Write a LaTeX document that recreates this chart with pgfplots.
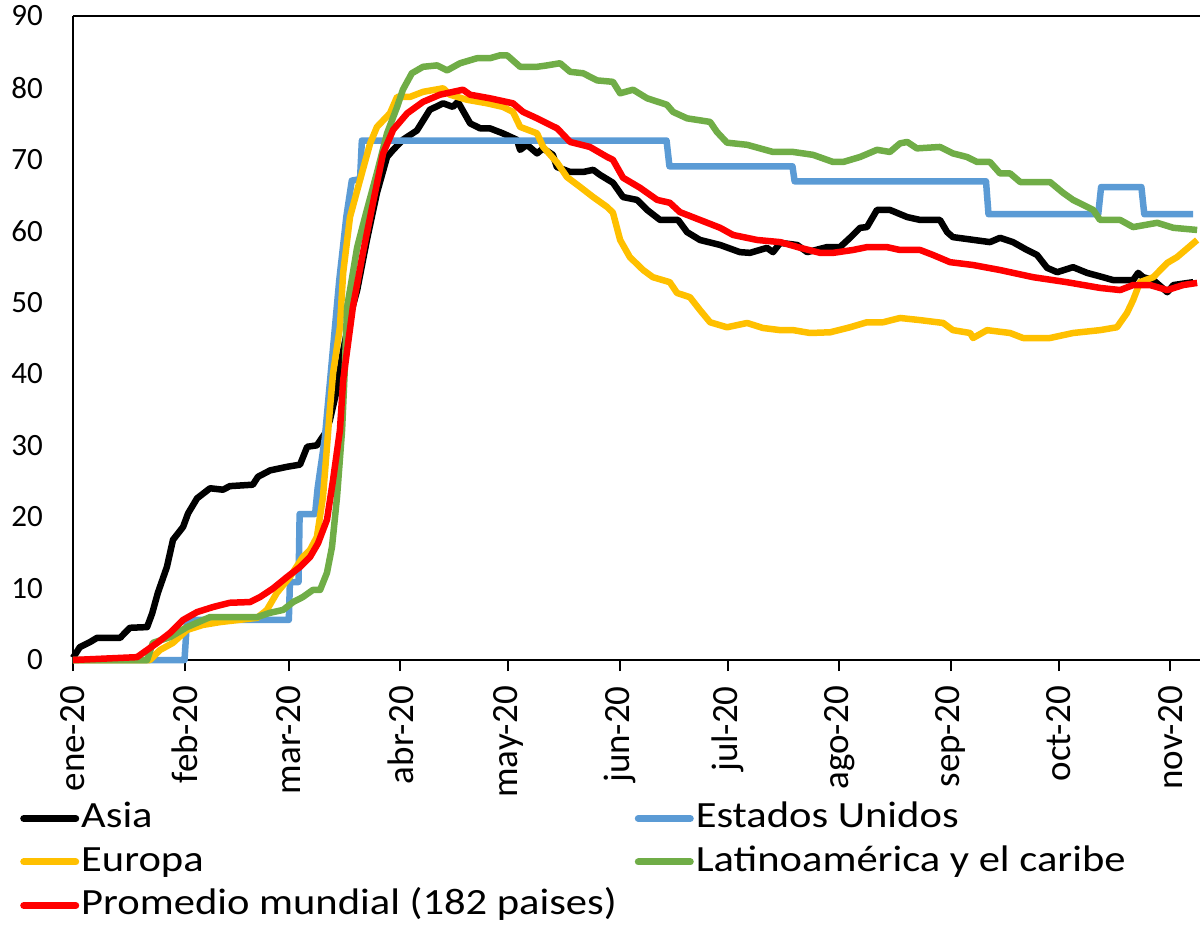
\documentclass[border=0pt]{standalone}
\usepackage{fontspec}
\setmainfont{Carlito}
\newfontfamily\legfont[FakeStretch=1.15]{Carlito}
\usepackage{pgfplots}
\pgfplotsset{compat=1.18}
\definecolor{cblue}{HTML}{5B9BD5}
\definecolor{cyellow}{HTML}{FFC000}
\definecolor{cgreen}{HTML}{70AD47}
\definecolor{cred}{HTML}{FF0000}
\begin{document}
\begin{tikzpicture}
\begin{axis}[
  name=ax, at={(0,0)}, anchor=south west,
  scale only axis, width=1127pt, height=644pt,
  xmin=0, xmax=313.3, ymin=0, ymax=90,
  clip=false,
  axis lines*=left, axis line style={-, line width=2pt, black},
  xtick={0,31,60,91,121,152,182,213,244,274,305},
  xticklabels={ene-20,feb-20,mar-20,abr-20,may-20,jun-20,jul-20,ago-20,sep-20,oct-20,nov-20},
  xtick pos=bottom, ytick pos=left,
  x tick style={line width=2pt, black}, xtick align=outside, major tick length=11pt,
  ytick={0,10,...,90},
  y tick style={draw=none}, ytick align=inside,
  /pgf/number format/assume math mode=true,
  yticklabel style={font=\fontsize{31}{31}\selectfont, inner sep=0pt},
  yticklabel shift=30pt,
  xticklabel style={font=\fontsize{37}{37}\selectfont, rotate=90, anchor=east, inner sep=0pt},
  xticklabel shift=15pt,
  every axis plot/.append style={line width=6.5pt, line join=round, mark=none},
  legend columns=2, legend cell align=left,
  legend image code/.code={\draw[#1, line width=7pt, line cap=round] (0pt,0pt) -- (52pt,0pt);},
  legend style={at={(-0.047,-0.212)}, anchor=north west, draw=none, fill=none, inner sep=0pt,
    font=\legfont\fontsize{37}{37}\selectfont,
    nodes={inner sep=2pt, text height=29pt, text depth=10.5pt},
    /tikz/every even column/.append style={column sep=16pt}},
  after end axis/.code={\draw[line width=2pt] (rel axis cs:0,1) -- (rel axis cs:1,1);},
]
% Asia
\addplot[black] coordinates {
(0,0.3)(1.9,1.8)(4.7,2.5)(6.7,3.1)(13.1,3.1)(15.8,4.5)(20.6,4.6)(22,6.5)(23.6,9.4)(26.1,13)(27.8,16.8)(30.6,18.6)(32,20.5)(34.5,22.6)(38.1,24)(41.7,23.8)(43.6,24.3)(50,24.5)(51.4,25.6)(54.8,26.5)(59.5,27)(63.1,27.3)(65.1,29.8)(67.8,30)(70.1,31.7)(71.4,33.5)(73,37)(75,43)(77,48)(79,51.7)(81.7,58.7)(84.5,65.3)(87.3,70.3)(89,71.3)(91.7,72.7)(95.6,74)(99.2,76.9)(102.9,77.8)(105.6,77.3)(107,78)(110.4,75)(113.2,74.3)(115.9,74.3)(119.5,73.6)(123.4,72.7)(124.3,71.3)(126.2,72)(129,70.8)(130.7,71.5)(133.4,70.6)(134.5,68.9)(138.2,68.2)(141.8,68.2)(144.6,68.5)(146.5,67.8)(150.1,66.7)(152.9,64.7)(156.8,64.3)(159.6,62.9)(163.2,61.5)(168.2,61.5)(170.7,59.8)(174.3,58.7)(179.9,58)(185.4,57)(188.2,56.9)(192.9,57.6)(194.6,57)(196.6,58.3)(201.3,58)(204.1,57)(209.6,57.7)(213.2,57.7)(216,59)(218.8,60.4)(220.7,60.5)(223.5,62.9)(227.1,62.9)(231.9,61.9)(235.5,61.5)(241,61.5)(243,59.8)(244.6,59.1)(254.9,58.4)(257.7,59)(261.3,58.4)(265.2,57.3)(268,56.6)(270.8,54.8)(273.6,54.2)(278,54.9)(281.9,54.1)(286.3,53.5)(289.1,53.1)(294.7,53.1)(296.1,54.1)(297.5,53.5)(300.3,53.1)(304.2,51.4)(305.9,52.4)(311.4,52.8)
};
\addlegendentry{Asia}
% Estados Unidos
\addplot[cblue] coordinates {
(0,0)(31,0)(31.7,5.6)(60,5.6)(60.3,10.9)(62.7,10.9)(63,20.4)(67.3,20.4)(68,24)(70,31)(72,42)(74,53)(76,62)(77.5,67)(79.8,67.2)(80.3,72.6)(165,72.6)(165.8,69)(200,69)(200.6,66.9)(253.8,66.9)(254.5,62.3)(285,62.3)(285.8,66.1)(297,66.1)(297.8,62.3)(311.4,62.3)
};
\addlegendentry{Estados Unidos}
% Europa
\addplot[cyellow] coordinates {
(0,0)(21.4,0)(24.2,1.4)(27.8,2.4)(31.7,4.2)(36.1,4.9)(40.9,5.3)(51.2,5.9)(53.9,7)(56.7,9.4)(60.3,11.6)(63.9,14.4)(65.9,15.4)(67.8,17.2)(69.5,22.8)(70.6,29.8)(71.4,35)(72.3,40.1)(74.2,46.5)(75.1,54.1)(77,61.9)(79.8,67.1)(82.6,72.2)(84.5,74.5)(88.1,76.4)(90.1,78.7)(93.7,78.7)(97.3,79.4)(102.9,79.9)(104.8,79)(109.5,78.3)(115.1,77.8)(119.5,77.3)(122.3,76.6)(124.3,74.5)(129,73.6)(130.7,71.7)(134.6,69.5)(137.3,67.5)(141,66.1)(144.6,64.7)(148.5,63.3)(150.1,62.5)(152.1,58.7)(154.8,56.3)(158.5,54.5)(161.2,53.5)(165.9,52.8)(167.9,51.3)(171.5,50.7)(174.3,48.9)(177.1,47.2)(181.8,46.5)(187.4,47.1)(191.8,46.4)(196.6,46.1)(200.2,46.1)(204.9,45.7)(210.5,45.8)(216,46.5)(220.7,47.2)(225.2,47.2)(229.9,47.8)(235.5,47.5)(241.9,47.1)(244.6,46.1)(249.4,45.7)(250.2,45)(254.1,46.1)(260.5,45.7)(264.1,45)(271.6,45)(278,45.7)(285.5,46.1)(290.2,46.5)(293,48.5)(294.7,50.3)(296.6,52.8)(300.3,53.5)(304.2,55.5)(306.9,56.3)(312.5,58.7)
};
\addlegendentry{Europa}
% Latinoamerica
\addplot[cgreen] coordinates {
(0,0)(20.6,0)(22.2,2.4)(27,3.2)(31.7,4.6)(38.1,6)(51.2,6)(54.8,6.6)(58.4,7)(61.2,8.1)(63.9,8.8)(66.7,9.8)(68.7,9.8)(70.6,12.2)(72,15.8)(73.4,22.8)(74.8,32.1)(75.5,40)(76.2,49.3)(79,57.7)(81.7,62.9)(84.5,68.1)(87.3,73.6)(90.1,77.3)(91.7,79.7)(94.2,82)(97.3,82.9)(101.2,83.1)(104,82.4)(107.6,83.4)(112.3,84.1)(115.9,84.1)(118.7,84.5)(120.7,84.5)(124.3,82.9)(129,82.9)(131.8,83.1)(135.4,83.4)(138.2,82.2)(141.8,82)(145.7,81)(150.1,80.8)(152.1,79.2)(155.7,79.7)(159.6,78.5)(165.1,77.6)(166.8,76.6)(170.7,75.7)(177.1,75.2)(179,73.8)(181.8,72.3)(187.4,72)(191,71.5)(194.6,71)(200.2,71)(205.7,70.6)(211.3,69.6)(214.1,69.6)(218.8,70.3)(223.5,71.3)(227.1,71)(229.9,72.2)(231.9,72.4)(234.6,71.5)(241,71.7)(244.6,70.8)(248.5,70.3)(251.3,69.6)(254.9,69.6)(257.7,68)(260.5,68)(263.3,66.8)(271.6,66.8)(275.2,65.3)(278,64.3)(283.6,62.9)(285.5,61.5)(291.1,61.5)(294.7,60.5)(301.4,61.1)(305.9,60.4)(312.5,60.1)
};
\addlegendentry{Latinoamérica y el caribe}
% Promedio mundial
\addplot[cred] coordinates {
(0,0)(17.8,0.4)(20.6,1.4)(23.4,2.4)(27,3.8)(30.6,5.6)(34.5,6.7)(38.9,7.4)(43.6,8)(49.2,8.1)(52,8.8)(55.6,10)(59.5,11.6)(63.1,13)(65.9,14.4)(68.1,16.3)(70.6,19.6)(72.3,25.2)(74.2,32.1)(75.1,39.1)(77.8,49.3)(80.6,56.9)(83.4,63.9)(86.2,70.8)(89,74.1)(92.9,76.4)(97.3,78)(102,79)(108.4,79.7)(110.4,79)(115.9,78.5)(122.3,77.8)(125.1,76.6)(129,75.7)(134.6,74.3)(138.2,72.4)(143.7,71.7)(148.5,70.3)(150.1,69.9)(152.9,67.4)(157.6,66)(162.4,64.3)(165.9,63.9)(168.7,62.6)(174.3,61.5)(179.9,60.4)(183.5,59.4)(190.2,58.7)(196.6,58.4)(202.2,57.6)(207.7,56.9)(211.3,56.9)(216.8,57.3)(220.7,57.7)(226.3,57.7)(229.9,57.3)(235.5,57.3)(239.1,56.6)(243.8,55.6)(250.2,55.2)(257.7,54.5)(266.9,53.5)(276.3,52.8)(285.5,52)(291.1,51.7)(294.7,52.4)(299.4,52.4)(304.2,51.7)(308.6,52.4)(312.5,52.7)
};
\addlegendentry{Promedio mundial (182 paises)}
\end{axis}
\pgfresetboundingbox
\path (-73pt,-270pt) rectangle (1128pt,660pt);
\end{tikzpicture}
\end{document}
